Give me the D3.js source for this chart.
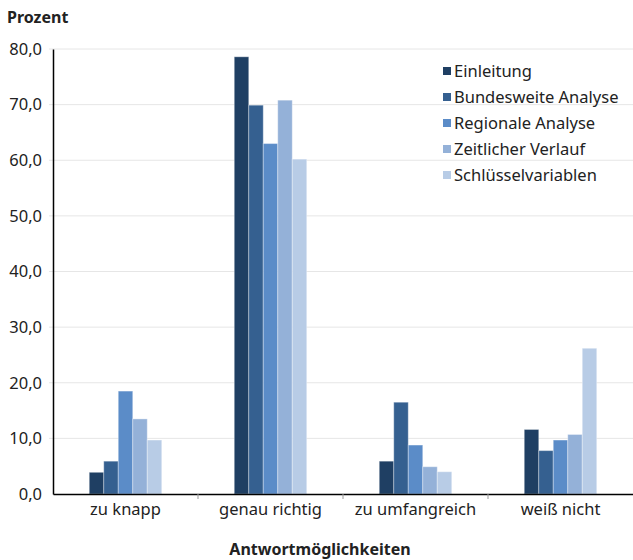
<!DOCTYPE html>
<html><head><meta charset="utf-8">
<script src="https://cdn.jsdelivr.net/npm/d3@7"></script>
<style>body{margin:0;background:#fff}</style>
</head><body>
<script>
const categories = ["zu knapp", "genau richtig", "zu umfangreich", "weiß nicht"];
const seriesNames = ["Einleitung", "Bundesweite Analyse", "Regionale Analyse", "Zeitlicher Verlauf", "Schlüsselvariablen"];
const einleitung = [3.9, 78.6, 5.9, 11.6];
const bundesweite = [5.9, 69.9, 16.5, 7.8];
const regionale = [18.5, 63.0, 8.8, 9.7];
const zeitlicher = [13.5, 70.8, 4.9, 10.7];
const schluessel = [9.7, 60.2, 4.0, 26.2];
const yTicks = [0, 10, 20, 30, 40, 50, 60, 70, 80];
const colors = ["#1f3f63", "#356090", "#5b8cc8", "#94b1d8", "#b8cce6"];
const seriesValues = [einleitung, bundesweite, regionale, zeitlicher, schluessel];

const W = 633, H = 560;
const m = {left: 53, right: 0, top: 49, bottom: 66};
const font = "'Noto Sans', sans-serif";
const svg = d3.select("body").append("svg").attr("width", W).attr("height", H)
  .style("font-family", font);

const x0 = d3.scaleBand().domain(categories).range([m.left, W - m.right]).paddingInner(0).paddingOuter(0);
const x1 = d3.scaleBand().domain(seriesNames).range([0, x0.bandwidth()]).paddingInner(0).paddingOuter(2.5);
const y = d3.scaleLinear().domain([0, 80]).range([H - m.bottom, m.top]);

// gridlines
svg.append("g").selectAll("line").data(yTicks.filter(d => d > 0)).join("line")
  .attr("x1", m.left - 4).attr("x2", W).attr("y1", d => y(d)).attr("y2", d => y(d))
  .attr("stroke", "#e6e6e6").attr("stroke-width", 1);

// bars
const g = svg.append("g");
seriesNames.forEach((s, si) => {
  g.append("g").selectAll("rect").data(categories).join("rect")
    .attr("x", c => x0(c) + x1(s))
    .attr("y", (c, i) => y(seriesValues[si][i]))
    .attr("width", x1.bandwidth())
    .attr("height", (c, i) => y(0) - y(seriesValues[si][i]))
    .attr("fill", colors[si])
    .attr("stroke", "rgba(255,255,255,0.35)").attr("stroke-width", 1);
});

// y axis
const ya = svg.append("g").attr("transform", `translate(${m.left},0)`)
  .call(d3.axisLeft(y).tickValues(yTicks).tickSize(0).tickPadding(11)
    .tickFormat(d => d3.format(".1f")(d).replace(".", ",")));
ya.select(".domain").attr("stroke", "#000").attr("stroke-width", 1.5);
ya.selectAll("text").style("font-family", font).style("font-size", "16.5px").attr("fill", "#222");

// x axis
const xa = svg.append("g").attr("transform", `translate(0,${y(0)})`)
  .call(d3.axisBottom(x0).tickSize(0).tickPadding(9));
xa.select(".domain").attr("stroke", "#000").attr("stroke-width", 1.5);
xa.selectAll("text").style("font-family", font).style("font-size", "16.5px").attr("fill", "#222");
svg.append("g").selectAll("line").data(categories.slice(1)).join("line")
  .attr("x1", c => x0(c)).attr("x2", c => x0(c))
  .attr("y1", y(0)).attr("y2", y(0) + 5).attr("stroke", "#999");

// titles
svg.append("text").attr("x", 7).attr("y", 23).text("Prozent")
  .style("font-weight", "bold").style("font-size", "16px").attr("fill", "#222");
svg.append("text").attr("x", 320).attr("y", 555).attr("text-anchor", "middle").text("Antwortmöglichkeiten")
  .style("font-weight", "bold").style("font-size", "16px").attr("fill", "#222");

// legend
const lg = svg.append("g").attr("transform", "translate(443,71)");
seriesNames.forEach((s, i) => {
  const row = lg.append("g").attr("transform", `translate(0,${i * 26})`);
  row.append("rect").attr("x", 0).attr("y", -4).attr("width", 8).attr("height", 8).attr("fill", colors[i]);
  row.append("text").attr("x", 11).attr("y", 0).attr("dy", "0.35em").text(s)
    .style("font-size", "16.5px").attr("fill", "#222");
});
</script>
</body></html>
